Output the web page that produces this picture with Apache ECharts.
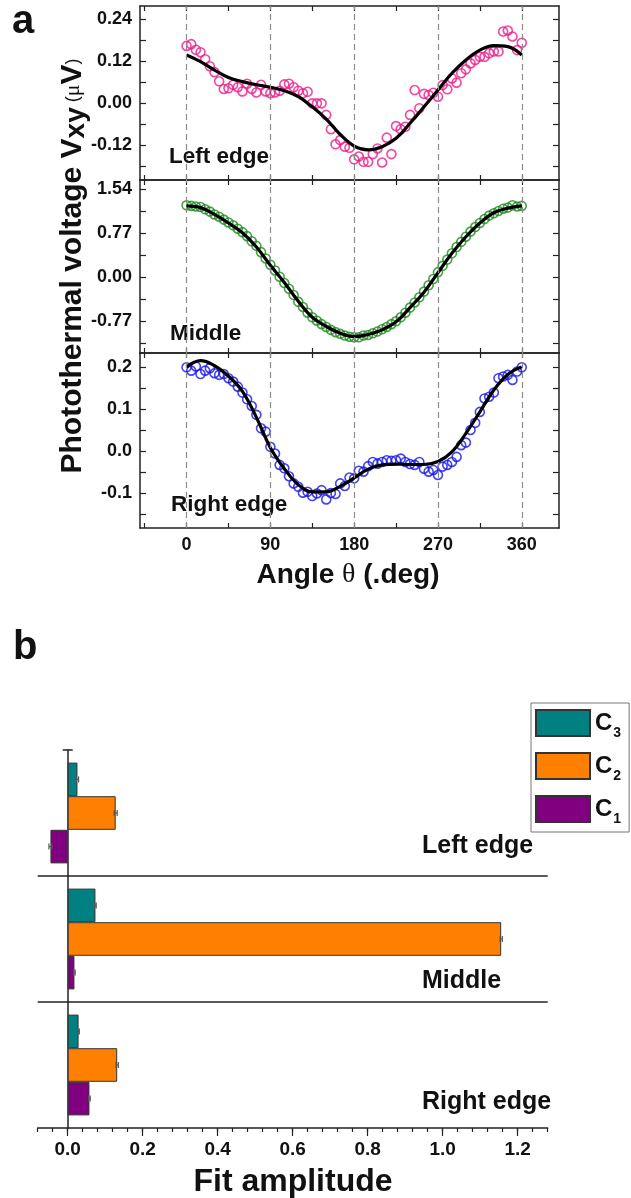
<!DOCTYPE html>
<html><head><meta charset="utf-8">
<script src="https://cdn.jsdelivr.net/npm/echarts@6/dist/echarts.min.js"></script>
<style>html,body{margin:0;padding:0;background:#fff}#c{width:631px;height:1198px}</style>
</head><body><div id="c"></div>
<script>
// ---------- Panel a data ----------
const angles = [0,5,10,15,20,25,30,35,40,45,50,55,60,65,70,75,80,85,90,95,100,105,110,115,120,125,130,135,140,145,150,155,160,165,170,175,180,185,190,195,200,205,210,215,220,225,230,235,240,245,250,255,260,265,270,275,280,285,290,295,300,305,310,315,320,325,330,335,340,345,350,355,360];
const leftEdgeData = [0.163,0.168,0.152,0.145,0.125,0.105,0.088,0.062,0.040,0.042,
  0.052,0.045,0.033,0.055,0.040,0.030,0.052,0.033,0.028,0.030,
  0.035,0.053,0.055,0.045,0.035,0.028,0.032,-0.001,-0.001,-0.001,
  -0.034,-0.075,-0.118,-0.106,-0.125,-0.128,-0.161,-0.153,-0.168,-0.168,
  -0.146,-0.130,-0.170,-0.099,-0.146,-0.066,-0.075,-0.068,-0.034,0.037,
  -0.015,0.026,0.023,0.029,0.018,0.051,0.039,0.070,0.058,0.085,
  0.096,0.113,0.123,0.132,0.132,0.142,0.147,0.147,0.204,0.207,
  0.190,0.151,0.172];
const middleData = [1.26,1.25,1.24,1.23,1.19,1.15,1.10,1.06,1.01,0.96,
  0.91,0.85,0.79,0.72,0.63,0.55,0.44,0.33,0.22,0.12,
  0.01,-0.10,-0.20,-0.31,-0.43,-0.52,-0.62,-0.70,-0.76,-0.82,
  -0.87,-0.92,-0.96,-0.99,-1.02,-1.04,-1.05,-1.05,-1.02,-1.01,
  -0.98,-0.95,-0.91,-0.87,-0.82,-0.77,-0.70,-0.62,-0.53,-0.44,
  -0.35,-0.25,-0.14,-0.03,0.09,0.20,0.31,0.42,0.53,0.62,
  0.71,0.80,0.88,0.95,1.02,1.08,1.12,1.16,1.20,1.22,
  1.26,1.24,1.25];
const rightEdgeData = [0.199,0.191,0.201,0.183,0.191,0.197,0.185,0.181,0.183,0.173,
  0.165,0.153,0.139,0.123,0.107,0.086,0.054,0.046,0.010,-0.006,
  -0.033,-0.041,-0.060,-0.077,-0.085,-0.099,-0.097,-0.107,-0.101,-0.093,
  -0.115,-0.100,-0.102,-0.077,-0.083,-0.063,-0.065,-0.047,-0.049,-0.036,
  -0.026,-0.030,-0.026,-0.022,-0.023,-0.022,-0.018,-0.026,-0.031,-0.033,
  -0.026,-0.042,-0.049,-0.045,-0.057,-0.037,-0.033,-0.026,-0.014,0.014,
  0.020,0.050,0.067,0.093,0.125,0.129,0.139,0.173,0.177,0.181,
  0.169,0.189,0.199];
const fitAngles = [0,15,30,45,60,75,90,105,120,135,150,165,180,195,210,225,240,255,270,285,300,315,330,345,360];
const leftEdgeFit = [0.137,0.118,0.094,0.073,0.061,0.052,0.045,0.035,0.018,-0.011,-0.046,-0.090,-0.123,-0.134,-0.125,-0.101,-0.058,-0.011,0.037,0.085,0.123,0.151,0.164,0.161,0.137];
const middleFit = [1.25,1.22,1.10,0.95,0.78,0.53,0.21,-0.09,-0.42,-0.70,-0.86,-0.98,-1.04,-1.00,-0.92,-0.78,-0.53,-0.26,0.08,0.42,0.71,0.95,1.13,1.21,1.25];
const rightEdgeFit = [0.200,0.215,0.203,0.178,0.142,0.080,0.008,-0.042,-0.080,-0.097,-0.097,-0.084,-0.064,-0.043,-0.033,-0.031,-0.032,-0.032,-0.025,-0.002,0.042,0.093,0.145,0.182,0.200];
const guideAngles = [0,90,180,270,360];
const angleTicks = [-45,0,45,90,135,180,225,270,315,360];
const angleLabels = [0,90,180,270,360];
const topYTicks = [-0.18,-0.12,-0.06,0,0.06,0.12,0.18,0.24];
const topYLabels = [-0.12,0,0.12,0.24];
const middleYTicks = [-1.155,-0.77,-0.385,0,0.385,0.77,1.155,1.54];
const middleYLabels = [-0.77,0,0.77,1.54];
const bottomYTicks = [-0.15,-0.1,-0.05,0,0.05,0.1,0.15,0.2];
const bottomYLabels = [-0.1,0,0.1,0.2];
const panelNames = ['Left edge','Middle','Right edge'];

// ---------- Panel b data ----------
const categoriesB = ['Right edge','Middle','Left edge'];
const c1 = [0.058, 0.018, -0.046];
const c2 = [0.132, 1.156, 0.128];
const c3 = [0.029, 0.074, 0.026];
const c1Err = [0.002, 0.002, 0.004];
const c2Err = [0.003, 0.003, 0.004];
const c3Err = [0.002, 0.002, 0.003];
const ampMajorTicks = [0,0.2,0.4,0.6,0.8,1.0,1.2];

const FF = "'Liberation Sans', Arial, Helvetica, sans-serif";
const AX = '#222';

const panels = [
  {top:6, height:174, min:-0.22, max:0.277, ticks:topYTicks, labels:topYLabels, dig:2, color:'#ec1a8a', data:leftEdgeData, fit:leftEdgeFit},
  {top:180, height:173, min:-1.325, max:1.703, ticks:middleYTicks, labels:middleYLabels, dig:2, color:'#1e8a1e', data:middleData, fit:middleFit},
  {top:353, height:175, min:-0.183, max:0.233, ticks:bottomYTicks, labels:bottomYLabels, dig:1, color:'#1515e8', data:rightEdgeData, fit:rightEdgeFit}
];

const grid = [], xAxis = [], yAxis = [], series = [];
panels.forEach((p, i) => {
  grid.push({left:140, width:419, top:p.top, height:p.height});
  const xBase = {gridIndex:i, type:'value', min:-50, max:400,
    axisLine:{show:true, onZero:false, lineStyle:{color:AX, width:1.5}},
    axisTick:{show:true, inside:true, length:5, customValues:angleTicks, lineStyle:{color:AX, width:1.2}},
    splitLine:{show:false}};
  xAxis.push(Object.assign({}, xBase, {position:'bottom',
    axisLabel:{show:i===2, customValues:angleLabels, margin:8, fontFamily:FF, fontWeight:'bold', fontSize:18, color:'#111'}}));
  xAxis.push(Object.assign({}, xBase, {position:'top', axisLabel:{show:false}}));
  const yBase = {gridIndex:i, type:'value', min:p.min, max:p.max,
    axisLine:{show:true, onZero:false, lineStyle:{color:AX, width:1.5}},
    axisTick:{show:true, inside:true, length:6, customValues:p.ticks, lineStyle:{color:AX, width:1.2}},
    splitLine:{show:false}};
  yAxis.push(Object.assign({}, yBase, {position:'left',
    axisLabel:{show:true, customValues:p.labels, margin:8, fontFamily:FF, fontWeight:'bold', fontSize:18, color:'#111',
      formatter: v => Number(v).toFixed(p.dig)}}));
  yAxis.push(Object.assign({}, yBase, {position:'right', axisLabel:{show:false}}));
  series.push({type:'scatter', name:panelNames[i]+' data', xAxisIndex:2*i, yAxisIndex:2*i,
    data: angles.map((a,k)=>[a, p.data[k]]), symbol:'circle', symbolSize:9,
    itemStyle:{color:'rgba(0,0,0,0)', borderColor:p.color, borderWidth:1.6}, z:3,
    markLine:{silent:true, symbol:['none','none'], label:{show:false},
      lineStyle:{type:[6,4], color:'#8a8a8a', width:1.2},
      data: guideAngles.map(a=>({xAxis:a}))}});
  series.push({type:'line', name:panelNames[i]+' fit', xAxisIndex:2*i, yAxisIndex:2*i,
    data: fitAngles.map((a,k)=>[a, p.fit[k]]), smooth:0.4, showSymbol:false, symbol:'none',
    lineStyle:{color:'#000', width:3.2}, z:4});
});

// Panel b
grid.push({left:37.7, width:510, top:750, height:378});
grid.push({left:37.7, width:510, top:750, height:378});
xAxis.push({gridIndex:3, type:'value', min:-0.08, max:1.28, interval:0.04, position:'bottom',
  axisLine:{show:true, lineStyle:{color:AX, width:1.5}},
  axisTick:{show:true, length:4, lineStyle:{color:AX, width:1.2}},
  axisLabel:{show:true, margin:12, fontFamily:FF, fontWeight:'bold', fontSize:19, color:'#111',
    formatter: v => { const r = v/0.2; return Math.abs(r-Math.round(r))<1e-6 && v>-1e-9 ? Number(v).toFixed(1) : ''; }},
  splitLine:{show:false}});
xAxis.push({gridIndex:4, type:'value', min:-0.08, max:1.28, position:'bottom',
  axisLine:{show:false}, axisTick:{show:true, length:8, customValues:ampMajorTicks, lineStyle:{color:AX, width:1.2}},
  axisLabel:{show:false, customValues:ampMajorTicks}, splitLine:{show:false}});
yAxis.push({gridIndex:3, type:'category', data:categoriesB, boundaryGap:true,
  axisLine:{show:true, onZero:true, lineStyle:{color:AX, width:1.5}},
  axisTick:{show:false}, axisLabel:{show:false}, splitLine:{show:false}});
yAxis.push({gridIndex:4, type:'value', show:false});

// series order: first series is drawn at the top of each group
const barSeries = [['C3', c3, c3Err, '#008080'], ['C2', c2, c2Err, '#ff8000'], ['C1', c1, c1Err, '#800080']];
barSeries.forEach(([n, vals, , col]) => {
  series.push({type:'bar', name:n, xAxisIndex:6, yAxisIndex:6, data:vals,
    barGap:'0%', barCategoryGap:'20%',
    itemStyle:{color:col, borderColor:'#333', borderWidth:1}});
});
const errData = [];
barSeries.forEach(([, vals, errs], s) => {
  vals.forEach((v,k) => errData.push([v, k, errs[k], s]));
});
series.push({type:'custom', name:'err', xAxisIndex:6, yAxisIndex:6, data:errData, z:5,
  encode:{x:0, y:1},
  renderItem:(params, api) => {
    const v = api.value(0), k = api.value(1), e = api.value(2), s = api.value(3);
    const c = api.coord([v, k]);
    const bandH = api.size([0, 1])[1];
    const barW = bandH * 0.8 / 3;
    const y = c[1] + (s - 1) * barW;
    const l = api.coord([v - e, k])[0], r = api.coord([v + e, k])[0];
    const st = {stroke:'#555', lineWidth:1.2};
    return {type:'group', children:[
      {type:'line', shape:{x1:l, y1:y, x2:r, y2:y}, style:st},
      {type:'line', shape:{x1:l, y1:y-3, x2:l, y2:y+3}, style:st},
      {type:'line', shape:{x1:r, y1:y-3, x2:r, y2:y+3}, style:st}
    ]};
  }});

const chart = echarts.init(document.getElementById('c'), null, {renderer:'canvas'});
chart.setOption({
  backgroundColor:'#fff', animation:false,
  grid, xAxis, yAxis, series,
  legend:{data:['C3','C2','C1'], orient:'vertical', left:531, top:703,
    itemWidth:54, itemHeight:26, itemGap:12, padding:[6,8,6,4],
    borderColor:'#777', borderWidth:1, icon:'rect', selectedMode:false,
    formatter: n => '{c|C}{s|' + n.slice(1) + '}',
    textStyle:{rich:{
      c:{fontFamily:FF, fontWeight:'bold', fontSize:24, color:'#111'},
      s:{fontFamily:FF, fontWeight:'bold', fontSize:14, color:'#111', padding:[20,0,0,1]}
    }}}
});

// Derived decorations (positions from the axes)
const yC = n => chart.convertToPixel({yAxisIndex:6}, n);
const xP = v => chart.convertToPixel({xAxisIndex:6}, v);
const yL = yC('Left edge'), yM = yC('Middle'), yR = yC('Right edge');
const sep1 = (yL + yM) / 2, sep2 = (yM + yR) / 2, capY = yL - (yM - yL) / 2;
const xL = xP(-0.08), xRgt = xP(1.28), x0 = xP(0);
const lineSt = {stroke:AX, lineWidth:1.5};
const txt = (x, y, text, size, extra) => Object.assign({type:'text', x, y, silent:true,
  style:{text, fill:'#111', fontFamily:FF, fontWeight:'bold', fontSize:size, textAlign:'left', textVerticalAlign:'middle'}}, extra || {});

chart.setOption({graphic:[
  {type:'line', shape:{x1:xL, y1:sep1, x2:xRgt, y2:sep1}, style:lineSt, silent:true},
  {type:'line', shape:{x1:xL, y1:sep2, x2:xRgt, y2:sep2}, style:lineSt, silent:true},
  {type:'line', shape:{x1:x0-5, y1:capY, x2:x0+5, y2:capY}, style:lineSt, silent:true},
  txt(12, 22, 'a', 40),
  txt(13, 648, 'b', 40),
  txt(169, 157, 'Left edge', 22.5),
  txt(170, 334, 'Middle', 22.5),
  txt(171, 505, 'Right edge', 22.5),
  txt(422, 846, 'Left edge', 25),
  txt(422, 981, 'Middle', 25),
  txt(422, 1102, 'Right edge', 25),
  {type:'text', x:293, y:1182, silent:true, style:{text:'Fit amplitude', fill:'#111', fontFamily:FF, fontWeight:'bold', fontSize:32, textAlign:'center', textVerticalAlign:'middle'}},
  {type:'text', x:348, y:575, silent:true, style:{text:'{a|Angle }{t|θ}{a| (.deg)}', textAlign:'center', textVerticalAlign:'middle',
    rich:{a:{fontFamily:FF, fontWeight:'bold', fontSize:28, fill:'#111'}, t:{fontFamily:"'Liberation Serif', 'DejaVu Serif', serif", fontSize:28, fill:'#111'}}}},
  {type:'text', x:73, y:266, rotation:Math.PI/2, silent:true, style:{text:'{a|Photothermal voltage V}{b|xy}{c| (}{d|μ}{a|V}{c|)}', textAlign:'center', textVerticalAlign:'middle',
    rich:{a:{fontFamily:FF, fontWeight:'bold', fontSize:30, fill:'#111'},
          b:{fontFamily:FF, fontWeight:'bold', fontSize:28, fill:'#111', padding:[6,0,0,0]},
          c:{fontFamily:FF, fontSize:18, fill:'#111'},
          d:{fontFamily:"'Liberation Serif', 'DejaVu Serif', serif", fontSize:22, fill:'#111'}}}}
]});
</script></body></html>
